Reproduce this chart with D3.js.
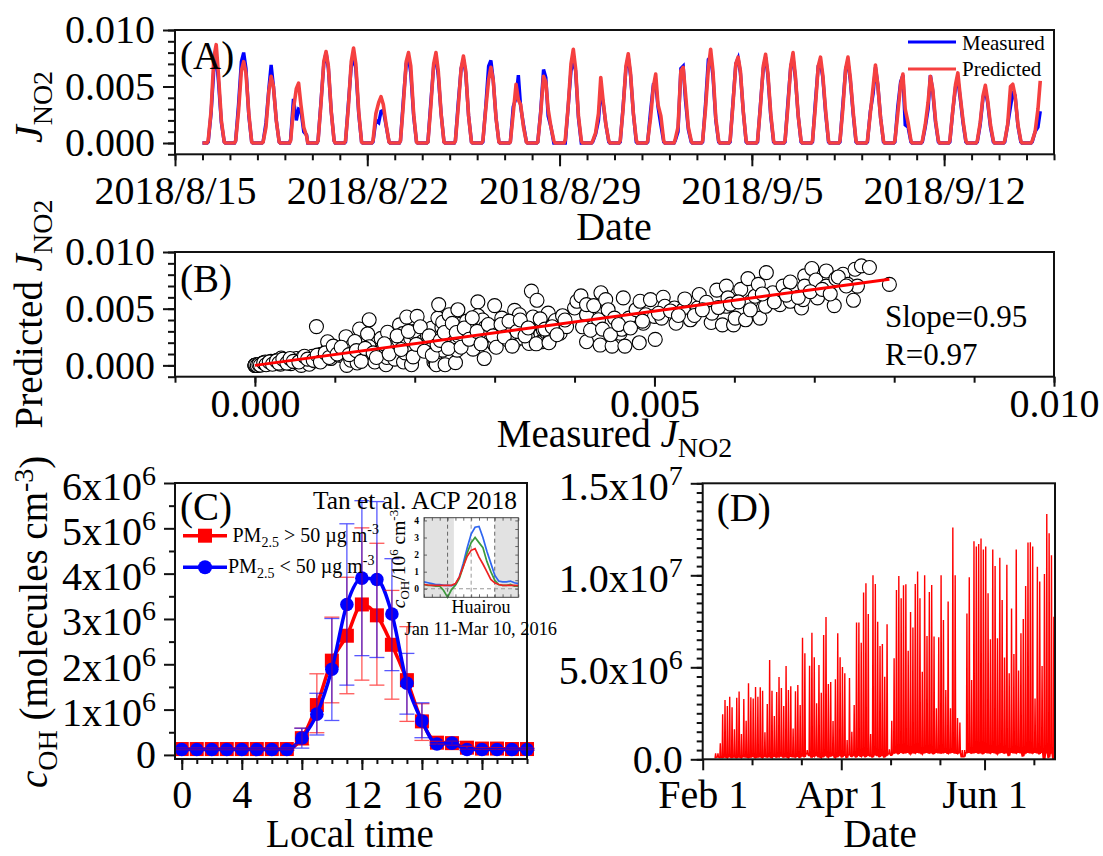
<!DOCTYPE html>
<html>
<head>
<meta charset="utf-8">
<script src="https://cdn.jsdelivr.net/npm/d3@7"></script>
<style>
	html, body { margin: 0; padding: 0; background: #fff; }
	svg { display: block; }
	text { font-family: "Liberation Serif", serif; fill: #000; }
</style>
</head>
<body>
<div id="chart"></div>
<script>
/* Panel A, J_NO2 in units of 1e-3, values at hoursA for each day from 8/16 */
var hoursA = [5, 7.5, 10, 12, 14, 16.5, 19];
var measuredA = [
	[.1,2.6,6.6,7.8,5.4,1.8,.1], [.2,3.4,7.2,8.0,6.6,2.4,.1], [.1,1.8,4.8,6.9,5.0,2.0,.1], [.3,3.9,2.0,3.0,2.9,1.0,.7],
	[.2,3.6,7.0,8.0,6.6,2.8,.2], [.1,3.5,6.8,7.5,6.6,2.6,.1], [.1,2.0,1.8,2.8,2.9,1.5,.1], [.2,3.8,7.0,7.6,6.2,2.4,.1],
	[.1,3.6,6.8,7.6,6.0,2.6,.1], [.2,3.6,6.6,7.4,6.2,2.4,.1], [.1,3.2,6.8,7.3,5.6,2.2,.1], [.1,3.2,4.0,6.0,3.2,1.6,.1],
	[.1,2.8,6.5,5.8,2.4,1.4,0], [0,3.2,6.4,7.3,6.4,2.2,0], [.1,.8,2.0,4.6,3.6,1.6,.1], [.1,3.2,6.6,7.6,6.0,2.6,.1],
	[.1,2.8,5.2,5.3,3.2,1.6,.1], [.2,1.0,6.6,6.8,3.8,1.2,.1], [.1,3.4,7.4,7.6,6.0,2.0,.1], [.1,3.6,7.0,7.5,6.2,2.8,.1],
	[.1,3.4,6.6,7.6,6.0,2.4,.1], [.1,3.6,6.8,7.5,5.8,2.4,.1], [.1,3.6,6.8,7.1,5.8,2.6,.1], [.1,3.4,6.6,7.1,5.6,2.6,.1],
	[.1,2.8,4.4,6.7,5.2,2.2,.1], [.1,3.2,5.4,6.0,1.6,1.4,.1], [.1,1.4,3.0,6.0,4.6,1.8,.1], [.1,2.8,5.0,5.6,4.0,1.8,.1],
	[.1,1.6,4.0,4.7,3.6,1.4,.1], [.1,1.6,3.2,4.4,4.2,1.5,.1], [.1,1.0,1.4,2.8]
];
var predictedA = [
	[.2,2.8,7.6,8.7,6.0,2.0,.1], [.2,2.8,6.4,7.2,6.2,2.6,.1], [.1,1.4,4.6,5.9,5.0,2.0,.1], [.2,3.0,4.8,5.3,3.4,1.4,.6],
	[.2,3.4,7.2,8.1,6.8,2.8,.2], [.2,3.2,7.2,8.4,7.0,2.8,.1], [.2,2.6,3.6,4.1,3.4,1.6,.1], [.2,3.4,7.2,8.0,6.8,2.6,.1],
	[.1,3.2,7.0,8.0,6.4,2.6,.1], [.2,3.2,6.6,7.7,6.4,2.4,.1], [.2,3.0,5.6,6.7,5.6,2.2,.1], [.1,2.6,5.2,3.8,3.4,1.4,.1],
	[.1,2.6,5.9,5.4,3.0,1.4,.2], [.3,3.2,7.0,8.3,6.6,2.4,.2], [.2,.9,2.6,5.8,3.8,1.6,.2], [.2,3.0,6.8,7.9,6.2,2.6,.3],
	[.2,2.2,5.0,6.1,3.4,2.4,.2], [.3,1.4,6.4,6.7,4.4,1.4,.2], [.2,3.0,6.6,8.3,6.4,2.2,.2], [.2,3.4,7.0,7.6,6.4,2.8,.2],
	[.2,3.2,6.8,7.85,6.2,2.6,.2], [.2,3.2,6.8,8.0,6.0,2.4,.2], [.2,3.2,6.8,7.6,6.0,2.8,.2], [.2,3.0,6.6,7.6,5.8,2.8,.2],
	[.2,2.6,5.0,6.9,5.2,2.2,.2], [.2,2.6,5.2,6.1,3.0,1.8,.2], [.2,1.6,3.6,5.9,4.8,2.0,.2], [.2,2.8,5.2,6.2,4.2,2.0,.2],
	[.2,1.8,4.2,5.1,3.8,1.6,.2], [.2,1.6,5.0,5.2,4.2,1.6,.2], [.2,1.0,3.0,5.5]
];
var majorDatesA = ['2018-08-15', '2018-08-22', '2018-08-29', '2018-09-05', '2018-09-12'];

/* Panel B, both axes in units of 1e-3 */
var measuredB = [
	0,.01,.02,.04,.06,.08,.09,.1,.13,.16,.2,.25,.28,.32,.33,.38,.42,.45,.5,.52,.56,.58,.6,.64,.68,.7,.72,.75,.77,.83,.85,.9,.91,.95,1.0,1.05,1.1,1.12,1.14,1.15,
	1.2,1.22,1.28,1.3,1.31,1.32,1.35,1.4,1.41,1.43,1.43,1.45,1.5,1.55,1.58,1.6,1.64,1.65,1.66,1.7,1.72,1.75,1.8,1.81,1.85,1.86,1.88,1.9,1.9,1.95,1.96,1.99,2.0,2.0,2.03,2.05,2.1,2.15,2.16,2.2,
	2.21,2.24,2.25,2.27,2.29,2.3,2.3,2.34,2.35,2.35,2.38,2.4,2.43,2.45,2.48,2.5,2.51,2.53,2.54,2.55,2.57,2.6,2.65,2.7,2.73,2.73,2.75,2.79,2.79,2.8,2.85,2.87,2.88,2.9,2.95,3.0,3.0,3.0,3.05,3.09,
	3.1,3.15,3.17,3.2,3.2,3.25,3.25,3.3,3.31,3.35,3.4,3.43,3.45,3.46,3.48,3.5,3.53,3.55,3.58,3.58,3.6,3.6,3.61,3.65,3.67,3.67,3.7,3.7,3.75,3.76,3.8,3.82,3.85,3.85,3.9,4.0,4.03,4.08,4.15,4.15,
	4.15,4.24,4.3,4.32,4.33,4.39,4.42,4.47,4.5,4.57,4.59,4.61,4.63,4.68,4.77,4.81,4.82,4.86,4.89,4.95,5.0,5.01,5.09,5.11,5.13,5.25,5.27,5.36,5.38,5.45,5.54,5.56,5.65,5.71,5.72,5.78,5.85,5.9,5.9,5.92,
	5.99,6.01,6.08,6.14,6.17,6.21,6.26,6.3,6.32,6.39,6.4,6.48,6.57,6.61,6.7,6.7,6.84,6.86,6.88,6.88,6.97,7.02,7.04,7.15,7.15,7.25,7.27,7.36,7.42,7.49,7.51,7.54,7.59,7.69,7.94,
	4.1,4.2,4.35,4.45,4.55,4.7,4.85,5.05,5.2,5.3,5.5,5.6,5.8,5.95,6.05,6.2,6.35,6.5,6.65,6.8,6.95,7.1,7.2,7.3,7.4,
	0,0,.01,.03,.05,.07,.11,.14,.18,.22,
	.27,.3,.35,.4,.44,.48,.55,.62,.66,.73,
	.78,.82,.88,.93,.98,1.03,1.08,1.18,1.25,1.27,
	1.33,1.38,1.48,1.52,1.62,1.68,1.78,1.83,1.92,1.98,
	2.02,2.07,2.12,2.18,2.22,2.28,2.32,2.37,2.42,2.47,
	2.52,2.58,2.62,2.68,2.72,2.78,2.83,2.92,2.98,3.02,
	3.08,3.12,3.18,3.22,3.28,3.32,3.38,3.42,3.52,3.57,
	3.63,3.68,3.72,3.78,3.88
];
var predictedB = [
	0,.02,0,.05,.03,.1,.15,.2,.3,.12,.35,.25,.45,.1,.65,.3,.5,.15,.38,.6,.2,0,.7,.45,.1,.6,.8,.4,3.42,.98,.75,1.25,2.08,.6,1.4,.9,1.5,.74,2.53,0,
	.45,1.75,.21,1.1,3.21,1.79,.6,1.2,2.77,4.02,1.64,.85,.3,1.05,2.38,1.45,.06,.7,2.92,1.2,1.79,.55,2.2,3.57,2.8,.3,1.1,4.26,1.93,2.4,.06,1.34,3.0,2.77,4.32,1.7,2.1,3.1,2.59,1.4,
	3.27,.3,.5,.06,4.17,2.5,5.36,3.33,3.8,1.34,.06,2.0,4.46,3.0,2.23,1.7,.24,1.34,4.91,2.6,3.63,3.1,3.9,2.0,1.43,2.83,3.4,5.6,4.38,2.5,4.0,.6,3.33,3.0,2.2,5.27,1.79,2.9,3.5,4.17,
	2.4,2.8,2.23,3.72,3.0,4.85,2.1,3.4,4.46,2.4,2.9,1.93,3.7,6.55,4.26,2.5,5.74,3.2,2.77,2.08,3.5,2.08,3.13,2.9,4.52,4.61,2.53,2.4,3.72,3.96,3.0,2.83,4.38,3.5,3.42,5.06,5.65,6.13,4.46,5.36,
	2.08,5.27,4.02,1.79,6.4,5.8,4.91,1.7,4.17,2.83,3.18,5.95,1.7,4.17,4.91,2.0,5.65,3.72,4.46,5.8,4.32,2.29,4.17,6.01,5.21,5.06,3.72,4.91,5.86,4.02,5.06,6.25,5.57,3.78,4.61,6.64,3.57,6.99,5.21,5.95,
	3.57,4.17,6.7,4.02,7.65,5.65,6.1,7.14,4.17,5.21,8.18,6.4,5.36,6.99,7.35,5.65,5.06,5.8,7.89,6.99,8.54,7.53,5.95,8.33,6.99,5.27,7.65,8.04,7.14,5.74,8.48,6.99,8.78,8.63,7.14,
	3.4,3.1,3.2,2.7,3.6,3.3,3.9,4.6,4.8,4.4,4.4,4.9,5.1,5.4,5.6,4.9,6.3,5.6,6.2,6.0,6.5,6.7,6.3,7.8,7.0,
	0,.01,.03,0,.08,.02,.22,.06,.3,.1,
	.4,.2,.55,.2,.6,.35,.3,.8,.55,.45,
	.9,.3,1.1,.7,1.7,1.0,1.6,.95,2.1,1.3,
	.35,1.5,1.1,.7,1.9,1.0,2.6,1.4,3.0,.75,
	1.85,3.4,1.25,2.6,.9,1.8,2.2,2.9,1.5,3.7,
	2.9,1.6,3.3,2.3,4.2,3.0,1.9,3.6,2.6,1.6,
	3.6,2.5,3.9,1.7,3.0,4.0,2.6,3.3,1.9,4.1,
	3.2,2.0,3.4,2.7,4.0
];
var fitMeasured = [0, 7.94];
var fitPredicted = [0, 7.6];

/* Panel C, units of 1e6 molecules cm-3 */
var hoursC = d3.range(24);
var redMean = [.13,.13,.13,.13,.13,.13,.13,.13,.37,1.1,2.08,2.63,3.32,3.08,2.43,1.65,.74,.27,.26,.16,.14,.14,.13,.13];
var redUpper = [.15,.15,.15,.15,.15,.15,.15,.15,.59,1.79,3.04,3.92,5.01,4.67,3.63,2.83,1.13,.3,.3,.19,.16,.16,.15,.15];
var redLower = [.11,.11,.11,.11,.11,.11,.11,.11,.22,.49,1.15,1.35,1.65,1.54,1.23,.74,.32,.24,.22,.13,.12,.12,.11,.11];
var blueMean = [.12,.12,.12,.12,.12,.12,.12,.12,.37,.9,1.89,3.32,3.9,3.87,3.11,1.58,.75,.24,.26,.12,.12,.12,.12,.12];
var blueUpper = [.14,.14,.14,.14,.14,.14,.14,.14,.59,1.36,3.01,5.1,5.61,5.59,4.33,2.24,1.15,.27,.29,.14,.14,.14,.14,.14];
var blueLower = [.1,.1,.1,.1,.1,.1,.1,.1,.15,.44,.76,1.54,2.19,2.15,1.86,.9,.38,.21,.23,.1,.1,.1,.1,.1];

/* Inset of panel C, units of 1e6 cm-3, one value per hour */
var insetHours = d3.range(25);
var insetBlue = [.4,.35,.3,.25,.25,.2,.2,.18,.25,.7,1.5,2.4,3.2,3.6,3.65,3.0,2.2,1.5,.8,.45,.4,.4,.45,.35,.3];
var insetGreen = [.25,.2,.2,.15,.15,-.1,-.5,-.05,.2,.6,1.3,2.1,2.7,3.0,2.7,2.4,1.6,1.0,.5,.25,.2,.2,.25,.15,.15];
var insetRed = [.25,.22,.2,.2,.2,.2,.2,.2,.3,.7,1.3,1.9,2.25,2.35,1.85,1.45,1.0,.55,.35,.25,.2,.2,.2,.2,.18];

/* Panel D, daily maximum and night minimum from 6 Feb, units of 1e6 */
var startDateD = '2018-02-06';
var peaksD = [
	.33,.33,.87,2.45,3.22,2.9,3.4,2.83,1.63,3.35,
	3.68,1.38,3.28,2.1,4.13,3.37,3.3,3.93,3.4,3.91,
	3.73,1.47,3.0,5.4,3.73,2.35,3.66,4.47,3.88,2.9,
	5.07,3.77,3.97,1.68,3.7,4.04,2.95,6.61,5.76,.5,
	5.09,6.88,5.54,3.04,5.13,3.62,6.76,7.74,4.09,4.2,
	2.08,4.35,6.85,5.54,5.02,4.67,1.05,4.42,1.5,2.95,
	7.43,7.43,6.34,9.06,9.57,7.9,1.38,10.0,9.53,7.48,
	6.16,6.27,4.49,7.34,.54,2.1,5.49,9.2,9.96,8.75,
	9.46,9.51,5.9,8.0,7.16,9.53,10.2,8.75,4.76,10.0,
	6.7,9.09,9.47,6.67,2.77,6.63,10.0,7.57,3.77,8.57,
	2.77,12.6,10.0,2.25,2.0,.5,.5,7.93,9.9,4.31,
	11.85,11.56,11.7,12.0,11.4,11.56,9.02,6.52,11.4,10.5,
	6.58,10.96,8.66,5.53,10.58,4.67,8.2,5.72,11.4,4.82,
	6.85,7.63,9.42,11.78,11.8,11.56,3.3,10.47,9.66,5.07,
	10.07,13.33,12.28,11.09,7.75
];
var nightsD = [
	.1,.12,.1,.1,.12,.1,.14,.1,.12,.1,
	.12,.1,.14,.12,.1,.12,.15,.1,.12,.14,
	.1,.15,.12,.14,.1,.16,.12,.14,.18,.12,
	.14,.1,.16,.14,.12,.16,.1,.18,.14,.3,
	.2,.12,.16,.2,.14,.1,.16,.2,.12,.18,
	.2,.1,.16,.2,.12,.22,.1,.24,.16,.2,
	.12,.22,.16,.2,.14,.22,.18,.12,.24,.2,
	.14,.22,.12,.2,.3,.22,.34,.36,.3,.38,
	.34,.36,.38,.3,.36,.34,.38,.36,.3,.36,
	.38,.34,.36,.3,.38,.36,.34,.36,.38,.32,
	.36,.38,.34,.32,.36,.14,.14,.36,.38,.34,
	.36,.38,.34,.36,.3,.38,.36,.34,.38,.36,
	.3,.36,.38,.34,.36,.2,.38,.36,.34,.38,
	.36,.18,.34,.38,.36,.34,.38,.36,.3,.38,
	.02,.36,.1,.34,.06
];
var majorDatesD = ['2018-02-01', '2018-04-01', '2018-06-01'];
var minorDatesD = ['2018-02-22', '2018-03-15', '2018-04-22', '2018-05-13', '2018-06-22'];

var svg = d3.select('#chart').append('svg').attr('width', 1103).attr('height', 856);
var parseDay = d3.timeParse('%Y-%m-%d');
var tickColor = '#111';
var labelSize = 40;

function drawAxis(parent, axis, y, x, textSize) {
	var g = parent.append('g').attr('transform', 'translate(' + (x || 0) + ',' + (y || 0) + ')').call(axis);
	g.select('.domain').remove();
	g.selectAll('line').attr('stroke', tickColor).attr('stroke-width', 2);
	g.selectAll('text').attr('font-family', '"Liberation Serif", serif').attr('font-size', textSize || labelSize).attr('fill', '#000');
	return g;
}

function drawFrame(x, y) {
	svg.append('rect')
		.attr('x', x.range()[0])
		.attr('y', y.range()[1])
		.attr('width', x.range()[1] - x.range()[0])
		.attr('height', y.range()[0] - y.range()[1])
		.attr('fill', 'none')
		.attr('stroke', tickColor)
		.attr('stroke-width', 2);
}

/* parts is a list of [text, size, shift, italic], shift is px relative to the normal baseline */
function richText(parent, parts, x, y, anchor, size, rotate) {
	var t = parent.append('text')
		.attr('text-anchor', anchor)
		.attr('font-size', size)
		.attr('transform', 'translate(' + x + ',' + y + ')' + (rotate ? ' rotate(-90)' : ''));
	var current = 0;
	parts.forEach(function (p) {
		var shift = p[2] || 0;
		var span = t.append('tspan')
			.attr('font-size', p[1] || size)
			.attr('dy', shift - current)
			.text(p[0]);
		if (p[3]) span.attr('font-style', 'italic');
		current = shift;
	});
	return t;
}

function panelLabel(text, x, y) {
	svg.append('text').attr('x', x).attr('y', y).attr('font-size', 39).text(text);
}

/* tick labels of the form 5x10^6 */
function powerTicks(g) {
	g.selectAll('.tick text').each(function (d) {
		var label = d3.select(this).text();
		var parts = label.split('^');
		if (parts.length < 2) return;
		var t = d3.select(this).text(null).attr('dy', null).attr('y', 16);
		t.append('tspan').text(parts[0]);
		t.append('tspan').attr('font-size', 28).attr('dy', -15).text(parts[1]);
	});
}

/* ---------- Panel A ---------- */
function renderA() {
	var x = d3.scaleTime().domain([parseDay('2018-08-15'), parseDay('2018-09-16')]).range([175, 1054]);
	var y = d3.scaleLinear().domain([-1, 10]).range([154.3, 30]);
	var firstDay = parseDay('2018-08-16');

	function seriesPoints(days) {
		var points = [[firstDay, 0]];
		days.forEach(function (values, i) {
			var day = d3.timeDay.offset(firstDay, i);
			points.push([d3.timeHour.offset(day, 4), 0]);
			values.forEach(function (v, j) {
				points.push([d3.timeMinute.offset(day, hoursA[j] * 60), v]);
			});
			if (values.length === hoursA.length) points.push([d3.timeHour.offset(day, 20), 0]);
		});
		return points;
	}

	var line = d3.line().x(function (d) { return x(d[0]); }).y(function (d) { return y(d[1]); });

	svg.append('path').attr('d', line(seriesPoints(measuredA))).attr('fill', 'none').attr('stroke', '#0000ff').attr('stroke-width', 3.4);
	svg.append('path').attr('d', line(seriesPoints(predictedA))).attr('fill', 'none').attr('stroke', '#f54040').attr('stroke-width', 3.6).attr('stroke-linejoin', 'round');

	var majors = majorDatesA.map(parseDay);
	drawAxis(svg, d3.axisBottom(x).tickValues(d3.timeDay.range(x.domain()[0], d3.timeDay.offset(x.domain()[1], 1))).tickSize(6).tickFormat(''), 154.3);
	drawAxis(svg, d3.axisBottom(x).tickValues(majors).tickSize(12).tickPadding(9.5).tickFormat(d3.timeFormat('%Y/%-m/%-d')), 154.3);
	drawAxis(svg, d3.axisLeft(y).tickValues(d3.range(-1, 11)).tickSize(7).tickFormat(''), 0, 175);
	drawAxis(svg, d3.axisLeft(y).tickValues([0, 5, 10]).tickSize(12).tickPadding(8).tickFormat(function (d) { return d3.format('.3f')(d / 1000); }), 0, 175);
	drawFrame(x, y);

	panelLabel('(A)', 180, 69);
	svg.append('text').attr('x', 614).attr('y', 240).attr('text-anchor', 'middle').attr('font-size', 40).text('Date');
	richText(svg, [['J', 40, 0, true], ['NO2', 28, 10]], 42, 107, 'middle', 40, true);

	svg.append('line').attr('x1', 908).attr('x2', 956).attr('y1', 42).attr('y2', 42).attr('stroke', '#0000ff').attr('stroke-width', 3);
	svg.append('line').attr('x1', 908).attr('x2', 956).attr('y1', 69).attr('y2', 69).attr('stroke', '#f54040').attr('stroke-width', 3);
	svg.append('text').attr('x', 962).attr('y', 50).attr('font-size', 21).text('Measured');
	svg.append('text').attr('x', 962).attr('y', 76).attr('font-size', 21).text('Predicted');
}

/* ---------- Panel B ---------- */
function renderB() {
	var x = d3.scaleLinear().domain([-1, 10]).range([175, 1054]);
	var y = d3.scaleLinear().domain([-1, 10]).range([376.7, 252]);

	svg.append('g').selectAll('circle').data(measuredB).join('circle')
		.attr('cx', function (d) { return x(d); })
		.attr('cy', function (d, i) { return y(predictedB[i]); })
		.attr('r', 7)
		.attr('fill', '#fff')
		.attr('stroke', '#000')
		.attr('stroke-width', 1.1);

	svg.append('line')
		.attr('x1', x(fitMeasured[0])).attr('x2', x(fitMeasured[1]))
		.attr('y1', y(fitPredicted[0])).attr('y2', y(fitPredicted[1]))
		.attr('stroke', '#ff0000').attr('stroke-width', 3);

	drawAxis(svg, d3.axisBottom(x).tickValues(d3.range(-1, 11)).tickSize(6).tickFormat(''), 376.7);
	drawAxis(svg, d3.axisBottom(x).tickValues([0, 5, 10]).tickSize(10).tickPadding(1.5).tickFormat(function (d) { return d3.format('.3f')(d / 1000); }), 376.7);
	drawAxis(svg, d3.axisLeft(y).tickValues(d3.range(-1, 11)).tickSize(7).tickFormat(''), 0, 175);
	drawAxis(svg, d3.axisLeft(y).tickValues([0, 5, 10]).tickSize(12).tickPadding(8).tickFormat(function (d) { return d3.format('.3f')(d / 1000); }), 0, 175);
	drawFrame(x, y);

	panelLabel('(B)', 180, 292);
	svg.append('text').attr('x', 885).attr('y', 327).attr('font-size', 31).text('Slope=0.95');
	svg.append('text').attr('x', 885).attr('y', 365).attr('font-size', 31).text('R=0.97');
	richText(svg, [['Measured '], ['J', 39, 0, true], ['NO2', 28, 10]], 614.5, 447, 'middle', 39);
	richText(svg, [['Predicted '], ['J', 39, 0, true], ['NO2', 28, 10]], 42, 314, 'middle', 39, true);
}

/* ---------- Panel C ---------- */
function renderC() {
	var x = d3.scaleLinear().domain([-0.45, 23]).range([175, 527]);
	var y = d3.scaleLinear().domain([-0.09, 6]).range([759, 483]);

	var line = d3.line()
		.x(function (d, i) { return x(hoursC[i]); })
		.y(function (d) { return y(d); })
		.curve(d3.curveMonotoneX);

	svg.append('path').attr('d', line(redMean)).attr('fill', 'none').attr('stroke', '#ff0000').attr('stroke-width', 3.5);
	svg.append('g').selectAll('rect').data(redMean).join('rect')
		.attr('x', function (d, i) { return x(hoursC[i]) - 7; })
		.attr('y', function (d) { return y(d) - 7; })
		.attr('width', 14).attr('height', 14)
		.attr('fill', '#ff0000');
	svg.append('path').attr('d', line(blueMean)).attr('fill', 'none').attr('stroke', '#0000ff').attr('stroke-width', 3.5);
	svg.append('g').selectAll('circle').data(blueMean).join('circle')
		.attr('cx', function (d, i) { return x(hoursC[i]); })
		.attr('cy', function (d) { return y(d); })
		.attr('r', 6.8)
		.attr('fill', '#0000ff');

	function errorBars(upper, lower, color) {
		var g = svg.append('g').attr('stroke', color).attr('stroke-width', 1.3).attr('opacity', .65);
		hoursC.forEach(function (h, i) {
			var cx = x(h);
			g.append('line').attr('x1', cx).attr('x2', cx).attr('y1', y(upper[i])).attr('y2', y(lower[i]));
			g.append('line').attr('x1', cx - 7.5).attr('x2', cx + 7.5).attr('y1', y(upper[i])).attr('y2', y(upper[i]));
			g.append('line').attr('x1', cx - 7.5).attr('x2', cx + 7.5).attr('y1', y(lower[i])).attr('y2', y(lower[i]));
		});
	}
	errorBars(redUpper, redLower, '#ff0000');
	errorBars(blueUpper, blueLower, '#0000ff');

	drawAxis(svg, d3.axisBottom(x).tickValues(hoursC).tickSize(5).tickFormat(''), 759);
	drawAxis(svg, d3.axisBottom(x).tickValues([0, 4, 8, 12, 16, 20]).tickSize(11).tickPadding(9.5), 759);
	drawAxis(svg, d3.axisLeft(y).tickValues(d3.range(0.5, 6, 1)).tickSize(6).tickFormat(''), 0, 175);
	var yAxis = drawAxis(svg, d3.axisLeft(y).tickValues([0, 1, 2, 3, 4, 5, 6]).tickSize(11).tickPadding(8)
		.tickFormat(function (d) { return d === 0 ? '0' : d + 'x10^6'; }), 0, 175);
	powerTicks(yAxis);
	drawFrame(x, y);

	panelLabel('(C)', 180, 520);
	richText(svg, [['c', 39, 0, true], ['OH', 28, 10], [' (molecules cm', 39, 0], ['-3', 28, -14], [')', 39, 0]], 47, 788, 'start', 39, true);
	svg.append('text').attr('x', 350).attr('y', 847).attr('text-anchor', 'middle').attr('font-size', 39).text('Local time');

	svg.append('line').attr('x1', 183).attr('x2', 227).attr('y1', 535.7).attr('y2', 535.7).attr('stroke', '#ff0000').attr('stroke-width', 3.5);
	svg.append('rect').attr('x', 198).attr('y', 528.7).attr('width', 14).attr('height', 14).attr('fill', '#ff0000');
	svg.append('line').attr('x1', 183).attr('x2', 227).attr('y1', 567.3).attr('y2', 567.3).attr('stroke', '#0000ff').attr('stroke-width', 3.5);
	svg.append('circle').attr('cx', 205).attr('cy', 567.3).attr('r', 7).attr('fill', '#0000ff');
	richText(svg, [['PM'], ['2.5', 14, 5], [' > 50 \u00b5g m', 20, 0], ['-3', 14, -8]], 232.5, 541.7, 'start', 20);
	richText(svg, [['PM'], ['2.5', 14, 5], [' < 50 \u00b5g m', 20, 0], ['-3', 14, -8]], 228, 573, 'start', 20);

	svg.append('text').attr('x', 313).attr('y', 509).attr('font-size', 25.4).text('Tan et al. ACP 2018');
	svg.append('text').attr('x', 451.5).attr('y', 612.7).attr('font-size', 18).text('Huairou');
	svg.append('text').attr('x', 404.5).attr('y', 635).attr('font-size', 18.4).text('Jan 11-Mar 10, 2016');

	renderInset();
}

function renderInset() {
	var x = d3.scaleLinear().domain([0, 24]).range([424, 518.3]);
	var y = d3.scaleLinear().domain([-.5, 4.16]).range([597.3, 517.7]);
	var inset = svg.append('g');

	inset.append('rect').attr('x', x(0)).attr('y', y(4.16)).attr('width', x(7.6) - x(0)).attr('height', y(-.5) - y(4.16)).attr('fill', '#e2e2e2');
	inset.append('rect').attr('x', x(18)).attr('y', y(4.16)).attr('width', x(24) - x(18)).attr('height', y(-.5) - y(4.16)).attr('fill', '#e2e2e2');

	[6, 12, 18].forEach(function (h) {
		inset.append('line').attr('x1', x(h)).attr('x2', x(h)).attr('y1', y(4.16)).attr('y2', y(-.5))
			.attr('stroke', h === 12 ? '#999' : '#666').attr('stroke-width', 1).attr('stroke-dasharray', '4,3');
	});
	inset.append('line').attr('x1', x(0)).attr('x2', x(24)).attr('y1', y(0)).attr('y2', y(0))
		.attr('stroke', '#999').attr('stroke-width', 1).attr('stroke-dasharray', '4,3');

	var line = d3.line().x(function (d, i) { return x(insetHours[i]); }).y(function (d) { return y(d); });
	[[insetBlue, '#2f66f0'], [insetGreen, '#3c9a3c'], [insetRed, '#ee2222']].forEach(function (s) {
		inset.append('path').attr('d', line(s[0])).attr('fill', 'none').attr('stroke', s[1]).attr('stroke-width', 1.7);
	});

	function thinAxis(axis, dy, dx) {
		var g = inset.append('g').attr('transform', 'translate(' + dx + ',' + dy + ')').call(axis);
		g.select('.domain').remove();
		g.selectAll('line').attr('stroke', '#444').attr('stroke-width', .8);
		g.selectAll('text').attr('font-family', '"Liberation Sans", sans-serif').attr('font-size', 9.5).attr('font-weight', 'bold').attr('fill', '#222');
	}
	var hourTicks = d3.range(0, 25, 2);
	thinAxis(d3.axisBottom(x).tickValues(hourTicks).tickSize(-3).tickFormat(''), y(-.5), 0);
	thinAxis(d3.axisTop(x).tickValues(hourTicks).tickSize(-3).tickFormat(''), y(4.16), 0);
	thinAxis(d3.axisLeft(y).tickValues([0, 1, 2, 3, 4]).tickSize(-3).tickPadding(5).tickFormat(d3.format('d')), 0, x(0));
	thinAxis(d3.axisRight(y).tickValues(d3.range(0, 4.5, .5)).tickSize(-3).tickFormat(''), 0, x(24));

	inset.append('rect').attr('x', x(0)).attr('y', y(4.16)).attr('width', x(24) - x(0)).attr('height', y(-.5) - y(4.16))
		.attr('fill', 'none').attr('stroke', '#444').attr('stroke-width', 1);

	richText(svg, [['c', 19.5, 0, true], ['OH', 13, 4], ['/10', 19.5, 0], ['6', 13, -7], [' cm', 19.5, 0], ['-3', 13, -7]], 405, 559, 'middle', 19.5, true);
}

/* ---------- Panel D ---------- */
function renderD() {
	var x = d3.scaleTime().domain([parseDay('2018-02-01'), parseDay('2018-07-01')]).range([702.7, 1055]);
	var y = d3.scaleLinear().domain([0, 15]).range([759.3, 483.3]);
	var start = parseDay(startDateD);

	var points = [];
	peaksD.forEach(function (peak, i) {
		var day = d3.timeDay.offset(start, i);
		points.push([day, nightsD[i]]);
		points.push([d3.timeHour.offset(day, 7), nightsD[i]]);
		points.push([d3.timeHour.offset(day, 12), peak]);
		points.push([d3.timeHour.offset(day, 17), nightsD[i]]);
	});

	var line = d3.line().x(function (d) { return x(d[0]); }).y(function (d) { return y(d[1]); });
	svg.append('path').attr('d', line(points)).attr('fill', 'none').attr('stroke', '#ff0000').attr('stroke-width', 1.4);

	drawAxis(svg, d3.axisBottom(x).tickValues(minorDatesD.map(parseDay)).tickSize(6).tickFormat(''), 759.3);
	drawAxis(svg, d3.axisBottom(x).tickValues(majorDatesD.map(parseDay)).tickSize(11).tickPadding(9.5).tickFormat(d3.timeFormat('%b %-d')), 759.3);
	drawAxis(svg, d3.axisLeft(y).tickValues(d3.range(0, 15.5, .5)).tickSize(6).tickFormat(''), 0, 702.7);
	var yAxis = drawAxis(svg, d3.axisLeft(y).tickValues([0, 5, 10, 15]).tickSize(12).tickPadding(8)
		.tickFormat(function (d) {
			if (d === 0) return '0.0';
			return d === 5 ? '5.0x10^6' : (d / 10).toFixed(1) + 'x10^7';
		}), 0, 702.7);
	powerTicks(yAxis);
	drawFrame(x, y);

	panelLabel('(D)', 716.7, 521);
	svg.append('text').attr('x', 880).attr('y', 847).attr('text-anchor', 'middle').attr('font-size', 39).text('Date');
}

renderA();
renderB();
renderC();
renderD();
</script>
</body>
</html>
